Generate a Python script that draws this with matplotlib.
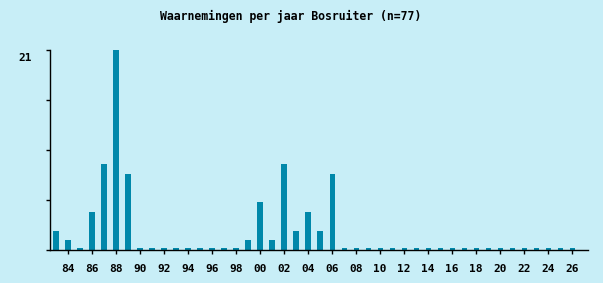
import matplotlib.pyplot as plt
import matplotlib.transforms as mtransforms
import numpy as np

# observations per year, 1983 .. 2026
years = list(range(1983, 2027))
counts = [2, 1, 0, 4, 9, 21, 8, 0, 0, 0, 0, 0, 0, 0, 0, 0,
          1, 5, 1, 9, 2, 4, 2, 8] + [0] * 20
title = "Waarnemingen per jaar Bosruiter (n=77)"

bg = "#c8eef7"
bar_color = "#0088aa"

fig = plt.figure(figsize=(6.03, 2.83), dpi=100, facecolor=bg)
ax = fig.add_axes([50 / 603, 33 / 283, 538 / 603, 200 / 283], facecolor=bg)

x = np.arange(len(years))
# zero years are drawn as a small stub
heights = [c if c > 0 else 0.2 for c in counts]
ax.bar(x, heights, width=0.42, color=bar_color, zorder=2)

ax.set_xlim(-0.5, len(years) + 0.33)
ax.set_ylim(0, 21)

font = dict(family="DejaVu Sans Mono", fontweight="bold", fontsize=8)

xt = [i for i, y in enumerate(years) if y % 2 == 0]
ax.set_xticks(xt)
ax.set_xticklabels([f"{years[i] % 100:02d}" for i in xt], **font)
ax.set_yticks([0, 5.25, 10.5, 15.75, 21])
ax.set_yticklabels(["", "", "", "", "21"], **font)
ax.tick_params(axis="both", length=3, width=1, color="black")
ax.tick_params(axis="x", pad=7)
ax.tick_params(axis="y", pad=10)

# the "21" label sits a little below its tick
shift = mtransforms.ScaledTranslation(0, -7 / 100, fig.dpi_scale_trans)
for lab in ax.get_yticklabels():
    lab.set_transform(lab.get_transform() + shift)

for s in ["top", "right"]:
    ax.spines[s].set_visible(False)
for s in ["left", "bottom"]:
    ax.spines[s].set_linewidth(1)
    ax.spines[s].set_color("black")

fig.text(291 / 603, 1 - 16 / 283, title, ha="center", va="center",
         family="DejaVu Sans Mono", fontweight="bold", fontsize=8.3)

fig.savefig("out.png", dpi=100, facecolor=bg)
